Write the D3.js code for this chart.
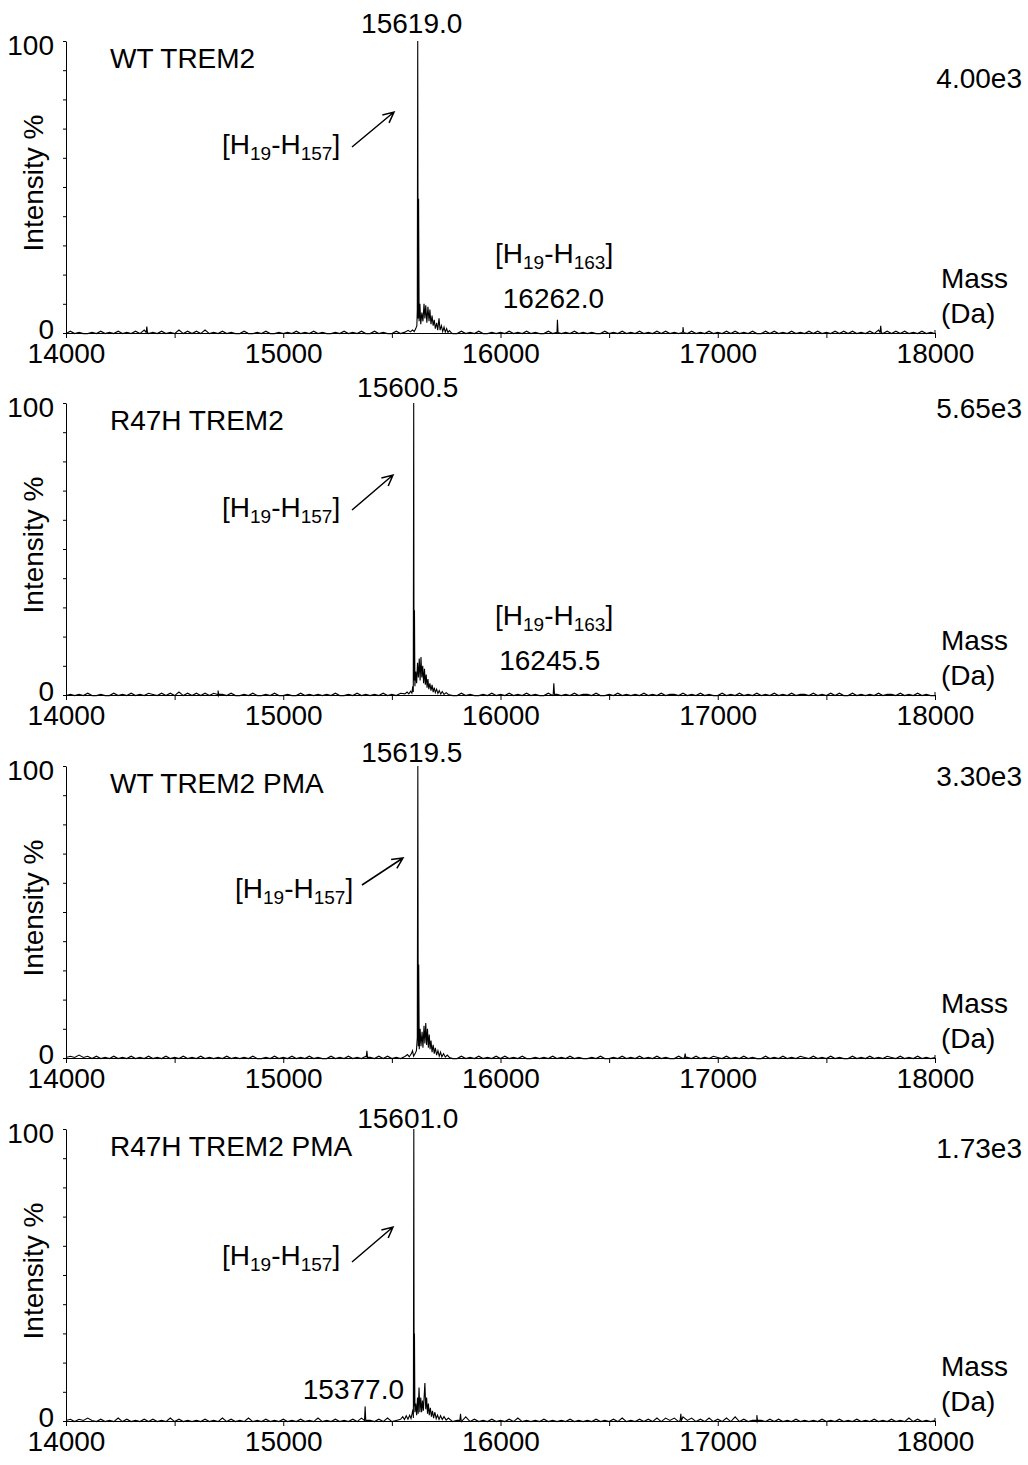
<!DOCTYPE html>
<html>
<head>
<meta charset="utf-8">
<script src="https://cdn.jsdelivr.net/npm/d3@7"></script>
<style>
  body { margin: 0; background: #fff; }
  svg text { font-family: "Liberation Sans", Arial, sans-serif; fill: #000; }
</style>
</head>
<body>
<div class="ms-chart"></div>
<script>
// --- DATA --- //
const panelNames = ["WT TREM2", "R47H TREM2", "WT TREM2 PMA", "R47H TREM2 PMA"];
const scaleLabels = ["4.00e3", "5.65e3", "3.30e3", "1.73e3"];
const peakMasses = [15619.0, 15600.5, 15619.5, 15601.0];
const peakLabels = ["15619.0", "15600.5", "15619.5", "15601.0"];
const minorMasses = [16262.0, 16245.5, null, 15377.0];
const minorLabels = ["16262.0", "16245.5", null, "15377.0"];
const xTickValues = [14000, 14500, 15000, 15500, 16000, 16500, 17000, 17500, 18000];
const yTickValues = [0, 10, 20, 30, 40, 50, 60, 70, 80, 90, 100];

// baseline noise, one digit per 20 Da from 14000 Da
const noiseStart = 14000, noiseStep = 20;
const noiseWT =
  "1312112131 2131213141 2131214131 3141213121 1311213112 1213121312 1121312131 1312113121 " +
  "2131213121 1312131121 2131213121 1312121312 1211312131 2131213131 2141312131 2131312131 " +
  "1313121312 1313121313 1312131413 1313121312 1";
const noiseR47H =
  "1212131121 1312131213 2131314131 3131312131 1213112131 1211312121 2131121312 1213121312 " +
  "2131213121 1312112131 2131213121 1312121312 2131121312 1213121312 2131213121 1312131213 " +
  "1213121312 2131213131 1312121312 2131213121 1";
const noiseWTPMA =
  "2324231312 1312131213 1213121312 1312121312 1213112131 2131213121 1312131213 2131312131 " +
  "2131213121 1312131213 1312131121 2131213121 1213112131 2131213121 1312131213 2131213121 " +
  "1312131213 2131213121 1312131213 2131213121 2";
const noiseR47HPMA =
  "2313242131 2141312131 3121413121 2131214131 2141213121 3121312141 2131213141 2131412132 " +
  "3141313121 2151312131 2131412121 3121213121 2131213141 2131314142 4152413141 3141513121 " +
  "2131312131 2121312131 2131213121 3121413121 2";
const noiseSets = [noiseWT, noiseR47H, noiseWTPMA, noiseR47HPMA];

// main peak + satellite cluster, [mass, intensity %]
const clusterWT = [[15560,0.3],[15575,0.9],[15585,0.4],[15595,1],[15603,0.5],[15610,1.5],[15615,2.5],[15617,8],
  [15619,100],[15621,5],[15623,46],[15625.5,4],[15629,10],[15633,3],[15638,7],[15643,4],[15648,10],[15652,5],
  [15656,9.5],[15661,3.5],[15666,9],[15671,4],[15675,8],[15680,3],[15685,6],[15690,2.5],[15695,4.5],[15700,1.5],
  [15706,3.5],[15711,1],[15717,5],[15722,1],[15728,2.5],[15734,0.5],[15740,2],[15746,0.3],[15752,1.5],
  [15758,0.2],[15765,0.8],[15772,0.2]];
const clusterR47H = [[15560,0.4],[15570,1],[15578,0.4],[15586,1.3],[15592,0.6],[15596,3],[15598.5,1],
  [15600.5,100],[15602,5],[15604,29],[15606,3],[15610,8],[15614,4],[15618,11],[15622,6],[15626,12.5],[15630,5],
  [15634,13],[15638,6],[15642,10],[15646,4],[15650,9],[15654,3.5],[15658,7],[15662,2.5],[15666,5.5],[15670,2],
  [15675,4],[15680,1.5],[15685,3.5],[15690,1],[15695,2.5],[15700,0.8],[15706,2],[15712,0.5],[15718,1.5],
  [15725,0.3],[15732,1.2],[15740,0.2],[15750,0.8],[15760,0.2]];
const clusterWTPMA = [[15560,0.5],[15572,1.2],[15580,0.4],[15590,1.5],[15595,2.5],[15600,0.6],[15607,1.5],
  [15613,2.5],[15617,7],[15619.5,100],[15621.5,4],[15623.5,32],[15626,3],[15630,10],[15634,4],[15639,9],
  [15643,3.5],[15648,11],[15652,5],[15656,12],[15660,4.5],[15664,10],[15668,3.5],[15672,8],[15676,3],[15680,6],
  [15685,2],[15690,4.5],[15695,1.5],[15700,3.5],[15706,1],[15712,2.5],[15718,0.6],[15724,2],[15730,0.4],
  [15738,1.5],[15746,0.3],[15755,1],[15765,0.2]];
const clusterR47HPMA = [[15540,0.6],[15550,1.5],[15558,0.5],[15566,1.8],[15574,0.6],[15582,2],[15588,0.8],
  [15593,2.5],[15597,4],[15599,1],[15601,100],[15602.5,5],[15604,30],[15606,3],[15610,6],[15614,2],[15618,8],
  [15621,2.5],[15625,11.5],[15629,3],[15633,8],[15637,3],[15641,7],[15645,3.5],[15649,9],[15652,13],[15656,4],
  [15660,8],[15664,2.5],[15668,6],[15672,2],[15677,4.5],[15682,1.5],[15687,3.5],[15692,1],[15698,3],[15704,0.8],
  [15710,2],[15717,0.5],[15724,1.8],[15732,0.5],[15740,1.5],[15750,0.3],[15760,1]];
const clusterSets = [clusterWT, clusterR47H, clusterWTPMA, clusterR47HPMA];

// isolated spikes, [mass, intensity %]
const spikesWT = [[14372,2.2],[16262,4.5],[16840,2],[17750,2.5]];
const spikesR47H = [[14700,1.5],[16245.5,4]];
const spikesWTPMA = [[15385,2.5],[16850,1.5]];
const spikesR47HPMA = [[15377,5],[15816,2.5],[16830,2.5],[17180,2]];
const spikeSets = [spikesWT, spikesR47H, spikesWTPMA, spikesR47HPMA];

// --- LAYOUT --- //
const width = 1028, height = 1465;
const panelH = 292;
const tops = [41, 403, 766, 1129];
const scaleLabelDy = [47, 15, 20, 29];
const peakLabelDy = [-8, -6, -4, -1];
const fragText = [{x:222, y:113}, {x:222, y:114}, {x:235, y:132}, {x:222, y:136}];
const arrows = [
  {x1:352, y1:106, x2:394, y2:71},
  {x1:352, y1:107, x2:393, y2:72},
  {x1:362, y1:119, x2:403, y2:92},
  {x1:352, y1:133, x2:393, y2:98}
];
const fs = 28, subFs = 19;

const svg = d3.select('.ms-chart').append('svg')
  .attr('width', width).attr('height', height)
  .attr('viewBox', [0, 0, width, height]);

const x = d3.scaleLinear().domain([14000, 18000]).range([66, 935]);

// build the spectrum line from noise, cluster and spikes
function buildProfile(noise, cluster, spikes) {
  const lo = cluster[0][0], hi = cluster[cluster.length - 1][0];
  const pts = [];
  noise.replace(/ /g, "").split("").forEach((c, i) => {
    const m = noiseStart + i * noiseStep;
    if (m < lo || m > hi) pts.push([m, (+c - 1.5) * 0.4]);
  });
  cluster.forEach(p => pts.push(p));
  spikes.forEach(([m, h]) => {
    pts.push([m - 3, 0.2], [m, h], [m + 3, 0.2]);
  });
  return pts.sort((a, b) => a[0] - b[0]);
}

// subscripted fragment label like [H19-H157]
function fragLabel(g, px, py, sub2) {
  const t = g.append("text").attr("x", px).attr("y", py).attr("font-size", fs);
  t.append("tspan").text("[H");
  t.append("tspan").attr("font-size", subFs).attr("dy", 6).text("19");
  t.append("tspan").attr("dy", -6).text("-H");
  t.append("tspan").attr("font-size", subFs).attr("dy", 6).text(sub2);
  t.append("tspan").attr("dy", -6).text("]");
}

panelNames.forEach((name, i) => {
  const top = tops[i], base = top + panelH;
  const y = d3.scaleLinear().domain([0, 100]).range([base, top]);
  const g = svg.append("g");

  // x axis
  const gx = g.append("g")
    .attr("transform", `translate(0,${base})`)
    .call(d3.axisBottom(x).tickValues(xTickValues).tickSize(5).tickSizeOuter(0)
      .tickPadding(5).tickFormat(d => d % 1000 === 0 ? String(d) : ""));
  gx.attr("font-size", fs).attr("font-family", null);
  gx.selectAll("line, path").attr("stroke", "#000");
  gx.select(".domain").attr("d", `M${x(14000)},0.5H${x(18000) + 0.5}`);
  gx.append("line").attr("x1", x(18000)).attr("x2", x(18000)).attr("y1", -3).attr("y2", 0).attr("stroke", "#000");

  // y axis
  const gy = g.append("g")
    .attr("transform", `translate(${x(14000)},0)`)
    .call(d3.axisLeft(y).tickValues(yTickValues).tickSize(3).tickSizeOuter(0)
      .tickPadding(9).tickFormat(d => (d === 0 || d === 100) ? String(d) : ""));
  gy.attr("font-size", fs).attr("font-family", null);
  gy.selectAll("line, path").attr("stroke", "#000");
  gy.selectAll(".tick text").attr("dy", d => d === 100 ? "0.48em" : "0.2em");

  // spectrum
  const profile = buildProfile(noiseSets[i], clusterSets[i], spikeSets[i]);
  g.append("path")
    .datum(profile)
    .attr("d", d3.line().x(d => x(d[0])).y(d => y(d[1])))
    .attr("fill", "none")
    .attr("stroke", "#000")
    .attr("stroke-width", 1.1);

  // texts
  g.append("text").attr("x", 110).attr("y", top + 27).attr("font-size", fs).text(name);
  g.append("text").attr("x", 1022).attr("y", top + scaleLabelDy[i])
    .attr("text-anchor", "end").attr("font-size", fs).text(scaleLabels[i]);
  g.append("text")
    .attr("transform", `translate(43,${top + 142}) rotate(-90)`)
    .attr("text-anchor", "middle").attr("font-size", fs).text("Intensity %");
  g.append("text").attr("x", 941).attr("y", base - 45).attr("font-size", fs).text("Mass");
  g.append("text").attr("x", 941).attr("y", base - 10).attr("font-size", fs).text("(Da)");

  g.append("text").attr("x", x(peakMasses[i]) - 6).attr("y", top + peakLabelDy[i])
    .attr("text-anchor", "middle").attr("font-size", fs).text(peakLabels[i]);

  fragLabel(g, fragText[i].x, top + fragText[i].y, "157");

  // arrow
  const a = arrows[i];
  const ax1 = a.x1, ay1 = top + a.y1, ax2 = a.x2, ay2 = top + a.y2;
  const ang = Math.atan2(ay2 - ay1, ax2 - ax1);
  const hl = 12;
  g.append("path")
    .attr("d", `M${ax1},${ay1}L${ax2},${ay2}` +
      `M${ax2 - hl * Math.cos(ang - 0.45)},${ay2 - hl * Math.sin(ang - 0.45)}L${ax2},${ay2}` +
      `L${ax2 - hl * Math.cos(ang + 0.45)},${ay2 - hl * Math.sin(ang + 0.45)}`)
    .attr("fill", "none").attr("stroke", "#000").attr("stroke-width", 1.5);

  // minor peaks
  if (minorMasses[i] !== null) {
    if (i < 2) {
      fragLabel(g, 495, base - 70, "163");
      g.append("text").attr("x", x(minorMasses[i]) - 4).attr("y", base - 25)
        .attr("text-anchor", "middle").attr("font-size", fs).text(minorLabels[i]);
    } else {
      g.append("text").attr("x", 404).attr("y", base - 22)
        .attr("text-anchor", "end").attr("font-size", fs).text(minorLabels[i]);
    }
  }
});
</script>
</body>
</html>
